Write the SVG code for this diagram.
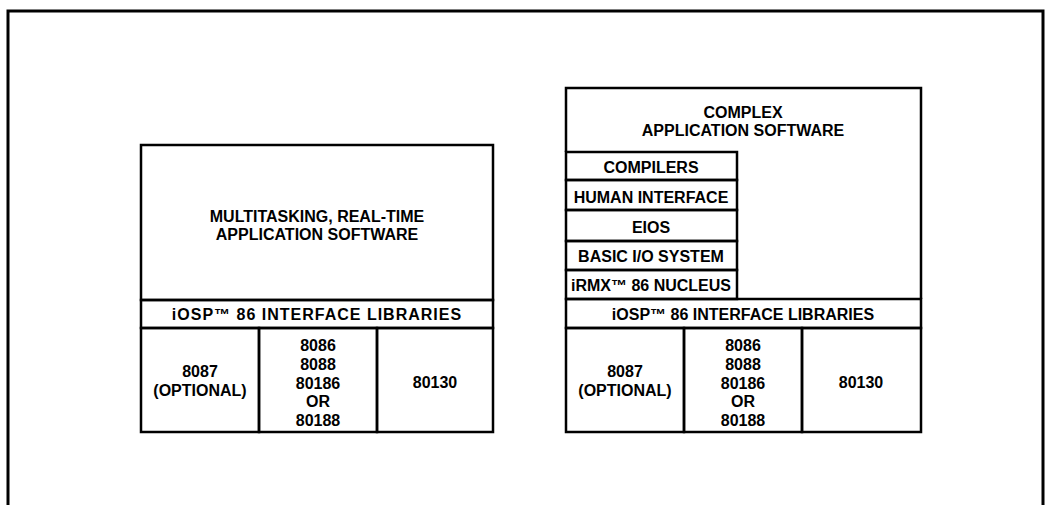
<svg xmlns="http://www.w3.org/2000/svg" width="1047" height="505" viewBox="0 0 1047 505">
<style>
.frame{fill:none;stroke:#000;stroke-width:3}
.box{fill:none;stroke:#000;stroke-width:2.5}
.ln{stroke:#000;stroke-width:2.5;fill:none}
text{font-family:"Liberation Sans",Arial,sans-serif;font-weight:bold;font-size:16px;fill:#000;text-anchor:middle}
</style>
<rect width="1047" height="505" fill="#fff"/>
<path class="frame" d="M8,505 V11 H1043 V505"/>
<g id="left-stack">
  <g id="left-app">
    <rect class="box" x="141" y="145" width="352" height="155"/>
    <text x="317" y="222">MULTITASKING, REAL-TIME</text>
    <text x="317" y="240">APPLICATION SOFTWARE</text>
  </g>
  <g id="left-iosp">
    <rect class="box" x="141" y="300" width="352" height="28"/>
    <text x="317" y="320" letter-spacing="1">iOSP™ 86 INTERFACE LIBRARIES</text>
  </g>
  <g id="left-8087">
    <rect class="box" x="141" y="328" width="118" height="104"/>
    <text x="200" y="377">8087</text>
    <text x="200" y="396">(OPTIONAL)</text>
  </g>
  <g id="left-cpu">
    <rect class="box" x="259" y="328" width="118" height="104"/>
    <text x="318" y="351">8086</text>
    <text x="318" y="370">8088</text>
    <text x="318" y="389">80186</text>
    <text x="318" y="407">OR</text>
    <text x="318" y="426">80188</text>
  </g>
  <g id="left-80130">
    <rect class="box" x="377" y="328" width="116" height="104"/>
    <text x="435" y="388">80130</text>
  </g>
</g>
<g id="right-stack">
  <g id="right-app">
    <path class="ln" d="M566,152 V88 H921 V299"/>
    <text x="743" y="118">COMPLEX</text>
    <text x="743" y="136">APPLICATION SOFTWARE</text>
  </g>
  <g id="compilers">
    <rect class="box" x="566" y="152" width="171" height="28"/>
    <text x="651" y="173">COMPILERS</text>
  </g>
  <g id="human-interface">
    <rect class="box" x="566" y="180" width="171" height="30"/>
    <text x="651" y="203">HUMAN INTERFACE</text>
  </g>
  <g id="eios">
    <rect class="box" x="566" y="210" width="171" height="31"/>
    <text x="651" y="233">EIOS</text>
  </g>
  <g id="bios">
    <rect class="box" x="566" y="241" width="171" height="29"/>
    <text x="651" y="262">BASIC I/O SYSTEM</text>
  </g>
  <g id="nucleus">
    <rect class="box" x="566" y="270" width="171" height="29"/>
    <text x="651" y="291">iRMX™ 86 NUCLEUS</text>
  </g>
  <g id="right-iosp">
    <rect class="box" x="566" y="299" width="355" height="29"/>
    <text x="743" y="320">iOSP™ 86 INTERFACE LIBRARIES</text>
  </g>
  <g id="right-8087">
    <rect class="box" x="566" y="328" width="118" height="104"/>
    <text x="625" y="377">8087</text>
    <text x="625" y="396">(OPTIONAL)</text>
  </g>
  <g id="right-cpu">
    <rect class="box" x="684" y="328" width="118" height="104"/>
    <text x="743" y="351">8086</text>
    <text x="743" y="370">8088</text>
    <text x="743" y="389">80186</text>
    <text x="743" y="407">OR</text>
    <text x="743" y="426">80188</text>
  </g>
  <g id="right-80130">
    <rect class="box" x="802" y="328" width="119" height="104"/>
    <text x="861" y="388">80130</text>
  </g>
</g>
<g id="connectors"/>
</svg>
